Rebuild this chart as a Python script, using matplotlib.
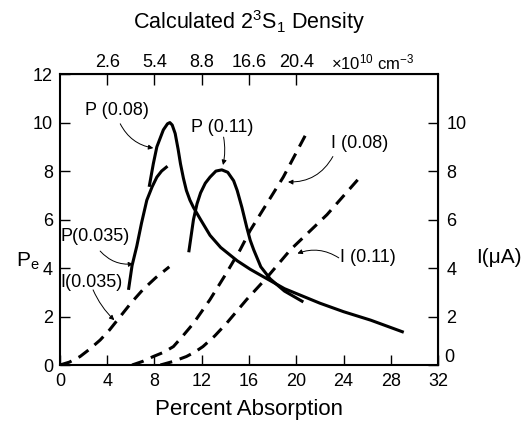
import numpy as np
import matplotlib
matplotlib.use('Agg')
import matplotlib.pyplot as plt

plt.rcParams['font.family'] = ['Liberation Sans', 'DejaVu Sans']
plt.rcParams['mathtext.default'] = 'regular'

# Polarization curves (solid)
p035_x = [5.8, 6.1, 6.5, 6.9, 7.35, 7.8, 8.2, 8.6, 9.1]
p035_y = [3.1, 4.1, 4.9, 5.85, 6.8, 7.35, 7.75, 8.0, 8.2]

p08_x = [7.55, 7.9, 8.2, 8.75, 9.1, 9.3, 9.5, 9.75, 10.0, 10.2, 10.45, 10.7, 11.0, 11.3,
         11.9, 12.7, 13.6, 15.0, 16.1, 17.0, 17.8, 19.0, 20.5, 22.0, 24.0, 26.3, 29.1]
p08_y = [7.35, 8.3, 9.0, 9.7, 9.95, 10.0, 9.9, 9.55, 8.9, 8.3, 7.7, 7.2, 6.8, 6.5,
         6.0, 5.35, 4.85, 4.3, 3.95, 3.7, 3.48, 3.15, 2.85, 2.55, 2.2, 1.85, 1.35]

p11_x = [10.9, 11.3, 11.6, 11.9, 12.3, 12.7, 13.2, 13.7, 14.2, 14.7, 15.0, 15.4, 15.8,
         16.1, 16.4, 17.0, 17.8, 19.0, 20.6]
p11_y = [4.65, 6.0, 6.65, 7.1, 7.5, 7.75, 8.0, 8.05, 7.95, 7.6, 7.2, 6.5, 5.7,
         5.15, 4.75, 4.05, 3.55, 3.05, 2.6]

# Current curves (dashed)
i035_x = [0, 0.8, 1.7, 2.5, 3.4, 4.2, 5.1, 6.0, 7.0, 8.1, 9.25]
i035_y = [0, 0.12, 0.35, 0.65, 1.03, 1.45, 2.0, 2.55, 3.1, 3.6, 4.05]

i08_x = [6.1, 7.0, 7.9, 8.8, 9.6, 10.4, 11.3, 12.7, 14.1, 15.25, 16.1, 18.9, 20.8]
i08_y = [0, 0.15, 0.35, 0.53, 0.76, 1.2, 1.72, 2.7, 3.8, 4.75, 5.55, 7.75, 9.5]

i11_x = [8.5, 9.6, 10.7, 11.4, 12.1, 13.1, 14.1, 15.8, 17.5, 19.5, 22.6, 25.4]
i11_y = [0, 0.15, 0.35, 0.53, 0.76, 1.2, 1.72, 2.7, 3.6, 4.75, 6.2, 7.75]

x_ticks = [0, 4, 8, 12, 16, 20, 24, 28, 32]
y_ticks = [0, 2, 4, 6, 8, 10, 12]
right_ticks = [0, 2, 4, 6, 8, 10]
right_labels = ['', '2', '4', '6', '8', '10']
top_ticks = [4, 8, 12, 16, 20]
top_labels = ['2.6', '5.4', '8.8', '16.6', '20.4']

fig = plt.figure(figsize=(5.29, 4.21), dpi=100)
ax = fig.add_axes([0.1134, 0.133, 0.7146, 0.691])

lw = 2.2
ax.plot(p035_x, p035_y, color='black', lw=lw, solid_capstyle='butt')
ax.plot(p08_x, p08_y, color='black', lw=lw, solid_capstyle='butt')
ax.plot(p11_x, p11_y, color='black', lw=lw, solid_capstyle='butt')
for xs, ys in [(i035_x, i035_y), (i08_x, i08_y), (i11_x, i11_y)]:
    ax.plot(xs, ys, color='black', lw=lw, dashes=(4, 2.6), dash_capstyle='butt')

ax.set_xlim(0, 32)
ax.set_ylim(0, 12)
ax.set_xticks(x_ticks)
ax.set_yticks(y_ticks)
ax.tick_params(direction='in', length=7, width=1.0, labelsize=13)
ax.tick_params(axis='x', pad=6)
ax.tick_params(axis='y', pad=5)
for s in ax.spines.values():
    s.set_linewidth(1.5)

top = ax.secondary_xaxis('top')
top.set_xticks(top_ticks, top_labels)
top.tick_params(direction='in', length=8, width=1.0, labelsize=13, pad=2)

right = ax.secondary_yaxis('right')
right.set_yticks(right_ticks, right_labels)
right.tick_params(direction='in', length=7, width=1.0, labelsize=13, pad=6)
ax.text(32.55, 0.3, '0', fontsize=13, ha='left', va='center')

ax.set_xlabel('Percent Absorption', fontsize=16, labelpad=6)
ax.text(-0.085, 0.355, 'P$_e$', transform=ax.transAxes, fontsize=15, ha='center', va='center')
ax.text(1.16, 0.368, 'I(μA)', transform=ax.transAxes, fontsize=15, ha='center', va='center')
fig.text(249 / 529, 1 - 22 / 421, 'Calculated 2$^3$S$_1$ Density', fontsize=15.5,
         ha='center', va='center')
ax.text(26.5, 12.5, '×10$^{10}$ cm$^{-3}$', fontsize=12, ha='center', va='center')

# labels and their curved pointer arrows
txt_kw = dict(fontsize=13, ha='center', va='center')
ax.text(4.8, 10.5, 'P (0.08)', **txt_kw)
ax.text(13.7, 9.8, 'P (0.11)', **txt_kw)
ax.text(3.0, 5.3, 'P(0.035)', **txt_kw)
ax.text(2.7, 3.4, 'I(0.035)', **txt_kw)
ax.text(25.4, 9.15, 'I (0.08)', **txt_kw)
ax.text(26.1, 4.45, 'I (0.11)', **txt_kw)

arrow = dict(arrowstyle='-|>', color='black', lw=0.7, mutation_scale=7, shrinkA=0, shrinkB=0)
ax.annotate('', xy=(7.9, 8.95), xytext=(5.1, 9.95),
            arrowprops=dict(arrow, connectionstyle='arc3,rad=0.25'))
ax.annotate('', xy=(13.8, 8.25), xytext=(13.85, 9.4),
            arrowprops=dict(arrow, connectionstyle='arc3,rad=-0.1'))
ax.annotate('', xy=(6.2, 4.17), xytext=(3.4, 4.7),
            arrowprops=dict(arrow, connectionstyle='arc3,rad=0.25'))
ax.annotate('', xy=(4.6, 1.85), xytext=(2.8, 3.1),
            arrowprops=dict(arrow, connectionstyle='arc3,rad=0.1'))
ax.annotate('', xy=(19.3, 7.55), xytext=(23.1, 8.6),
            arrowprops=dict(arrow, connectionstyle='arc3,rad=-0.3'))
ax.annotate('', xy=(20.1, 4.6), xytext=(23.6, 4.42),
            arrowprops=dict(arrow, connectionstyle='arc3,rad=0.25'))

fig.savefig('out.png', dpi=100)
